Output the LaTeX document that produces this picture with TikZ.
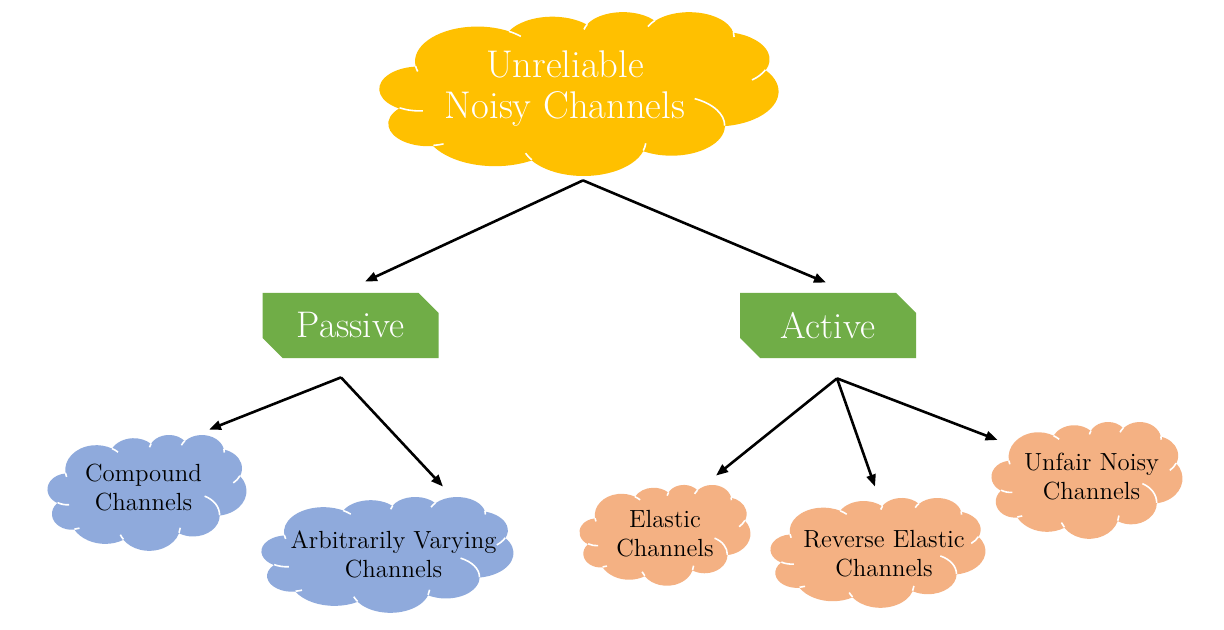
\documentclass[tikz,border=0pt]{standalone}
\usetikzlibrary{shapes.misc,arrows.meta,calc}
\pgfdeclarelayer{background}
\pgfsetlayers{background,main}
\definecolor{gold}{HTML}{FFC000}
\definecolor{leaf}{HTML}{70AD47}
\definecolor{sky}{HTML}{8FAADC}
\definecolor{peach}{HTML}{F4B183}
% one arc of an Office-style cloud: x radius, y radius, start angle, sweep (visual angles)
\newcommand\cldarc[4]{\pgfextra{%
  \pgfmathsetmacro\cldS{atan2((#1)*sin(#3),(#2)*cos(#3))}%
  \pgfmathsetmacro\cldE{atan2((#1)*sin((#3)+(#4)),(#2)*cos((#3)+(#4)))}%
  \pgfmathsetmacro\cldD{\cldE-\cldS}%
  \pgfmathsetmacro\cldD{\cldD+360*((#4)>0)*(\cldD<0)-360*((#4)<0)*(\cldD>0)}%
}arc[start angle=\cldS, delta angle=\cldD, x radius=#1, y radius=#2]}
% cloud drawn behind a named node, filling the node's box
\newcommand\officecloud[2]{%
  \pgfpointdiff{\pgfpointanchor{#1}{north west}}{\pgfpointanchor{#1}{south east}}%
  \pgfgetlastxy{\cldW}{\cldH}%
  \pgfmathsetmacro\cldX{abs(\cldW)/216}%
  \pgfmathsetmacro\cldY{abs(\cldH)/216}%
  \begin{pgfonlayer}{background}
  \begin{scope}[shift={(#1.center)}, xscale=\cldX, yscale=\cldY, shift={(-216,-216)}]
    \fill[#2] (39,143.7)
      \cldarc{67.53}{91.90}{-190.4875}{123.7805}
      \cldarc{53.33}{72.67}{-144.1024}{89.9452}
      \cldarc{43.65}{59.45}{-145.8079}{99.7230}
      \cldarc{48.57}{65.95}{-130.9861}{117.2417}
      \cldarc{53.33}{72.73}{-78.7089}{109.0269}
      \cldarc{67.75}{92.20}{-46.2673}{130.2690}
      \cldarc{57.85}{78.67}{0.6250}{114.0333}
      \cldarc{67.52}{92.15}{22.4516}{115.1726}
      \cldarc{77.20}{105.43}{66.2426}{75.7110}
      \cldarc{43.60}{59.18}{-274.9421}{146.7356}
      \cldarc{43.45}{59.45}{-246.8285}{152.5189} -- cycle;
    \draw[innerarc]
      (46.93,261.77) \cldarc{43.45}{59.45}{86.742}{26.4295}
      (69.28,348.99) \cldarc{43.60}{59.18}{73.6105}{11.4475}
      (164.78,390.90) \cldarc{67.52}{92.15}{137.6242}{14.0811}
      (288.27,347.51) \cldarc{67.52}{92.15}{6.4533}{15.9984}
      (341.29,229.54) \cldarc{57.85}{78.67}{-70.2924}{70.9174}
      (417.98,153.54) \cldarc{53.33}{72.73}{30.3180}{27.7515}
      (383.24,54.26) \cldarc{48.57}{65.95}{-13.7443}{14.8589}
      (290.78,39.52) \cldarc{48.57}{65.95}{-149.1815}{18.1954}
      (221.41,47.20) \cldarc{43.65}{59.45}{-163.4943}{17.6864}
      (140.00,51.92) \cldarc{67.53}{91.90}{-66.7070}{12.3194}
      (41.27,157.89) \cldarc{67.53}{91.90}{157.6544}{11.8582};
  \end{scope}
  \end{pgfonlayer}}
\tikzset{
  innerarc/.style={white, line width=0.8pt},
  cloudslot/.style={rectangle, draw=none, inner sep=0pt},
  bigtext/.style={text=white, align=center, font=\fontsize{19.3}{20.5}\selectfont},
  smalltext/.style={text=black, align=center, font=\fontsize{12.4}{14.5}\selectfont},
  snipbox/.style={chamfered rectangle, chamfered rectangle corners={north east,south west}, chamfered rectangle xsep=5pt, chamfered rectangle ysep=5pt, fill=leaf, draw=none, text=white, minimum width=88pt, minimum height=32.5pt, inner sep=0pt, font=\fontsize{18.5}{20}\selectfont},
  arr/.style={-{Triangle[length=6pt,width=4.6pt]}, line width=1.3pt, black}
}
\begin{document}
\begin{tikzpicture}[x=0.5pt,y=-0.5pt]
\useasboundingbox (0,0) rectangle (1224,630);
\begin{pgfonlayer}{background}
\fill[white] (0,0) rectangle (1224,630);
\end{pgfonlayer}
\node[cloudslot, minimum width=199pt, minimum height=81.5pt,
  label={[bigtext, xshift=-7pt, yshift=2.5pt]center:Unreliable\\Noisy Channels}] (top) at (579,93.5) {};
\node[snipbox] (passive) at (350.5,325.5) {Passive};
\node[snipbox] (active) at (828,325.5) {Active};
\node[cloudslot, minimum width=99pt, minimum height=57.5pt,
  label={[smalltext, xshift=-1.75pt, yshift=2.5pt]center:Compound\\Channels}] (compound) at (147,492.5) {};
\node[cloudslot, minimum width=125.5pt, minimum height=57.5pt,
  label={[smalltext, xshift=3pt]center:Arbitrarily Varying\\Channels}] (avc) at (387.5,554.5) {};
\node[cloudslot, minimum width=85pt, minimum height=50pt,
  label={[smalltext, yshift=0.5pt]center:Elastic\\Channels}] (elastic) at (665,535) {};
\node[cloudslot, minimum width=107pt, minimum height=54.5pt,
  label={[smalltext, xshift=3pt, yshift=-0.75pt]center:Reverse Elastic\\Channels}] (reverse) at (878,552.5) {};
\node[cloudslot, minimum width=95pt, minimum height=58pt,
  label={[smalltext, xshift=2.25pt, yshift=1.5pt]center:Unfair Noisy\\Channels}] (unfair) at (1087,480) {};
\officecloud{top}{gold}
\officecloud{compound}{sky}
\officecloud{avc}{sky}
\officecloud{elastic}{peach}
\officecloud{reverse}{peach}
\officecloud{unfair}{peach}
\coordinate (tf) at ([shift={(4,5)}]top.south);
\coordinate (pf) at ([shift={(-9.5,19)}]passive.south);
\coordinate (af) at ([shift={(9,20)}]active.south);
\draw[arr] (tf) -- ([shift={(14.5,-11)}]passive.north);
\draw[arr] (tf) -- ([shift={(-2,-10)}]active.north);
\draw[arr] (pf) -- ([shift={(62,-5)}]compound.north);
\draw[arr] (pf) -- ([shift={(55.5,-10)}]avc.north);
\draw[arr] (af) -- ([shift={(51,-9)}]elastic.north);
\draw[arr] (af) -- ([shift={(-3,-11)}]reverse.north);
\draw[arr] (af) -- ([shift={(6,-40)}]unfair.west);
\end{tikzpicture}
\end{document}
